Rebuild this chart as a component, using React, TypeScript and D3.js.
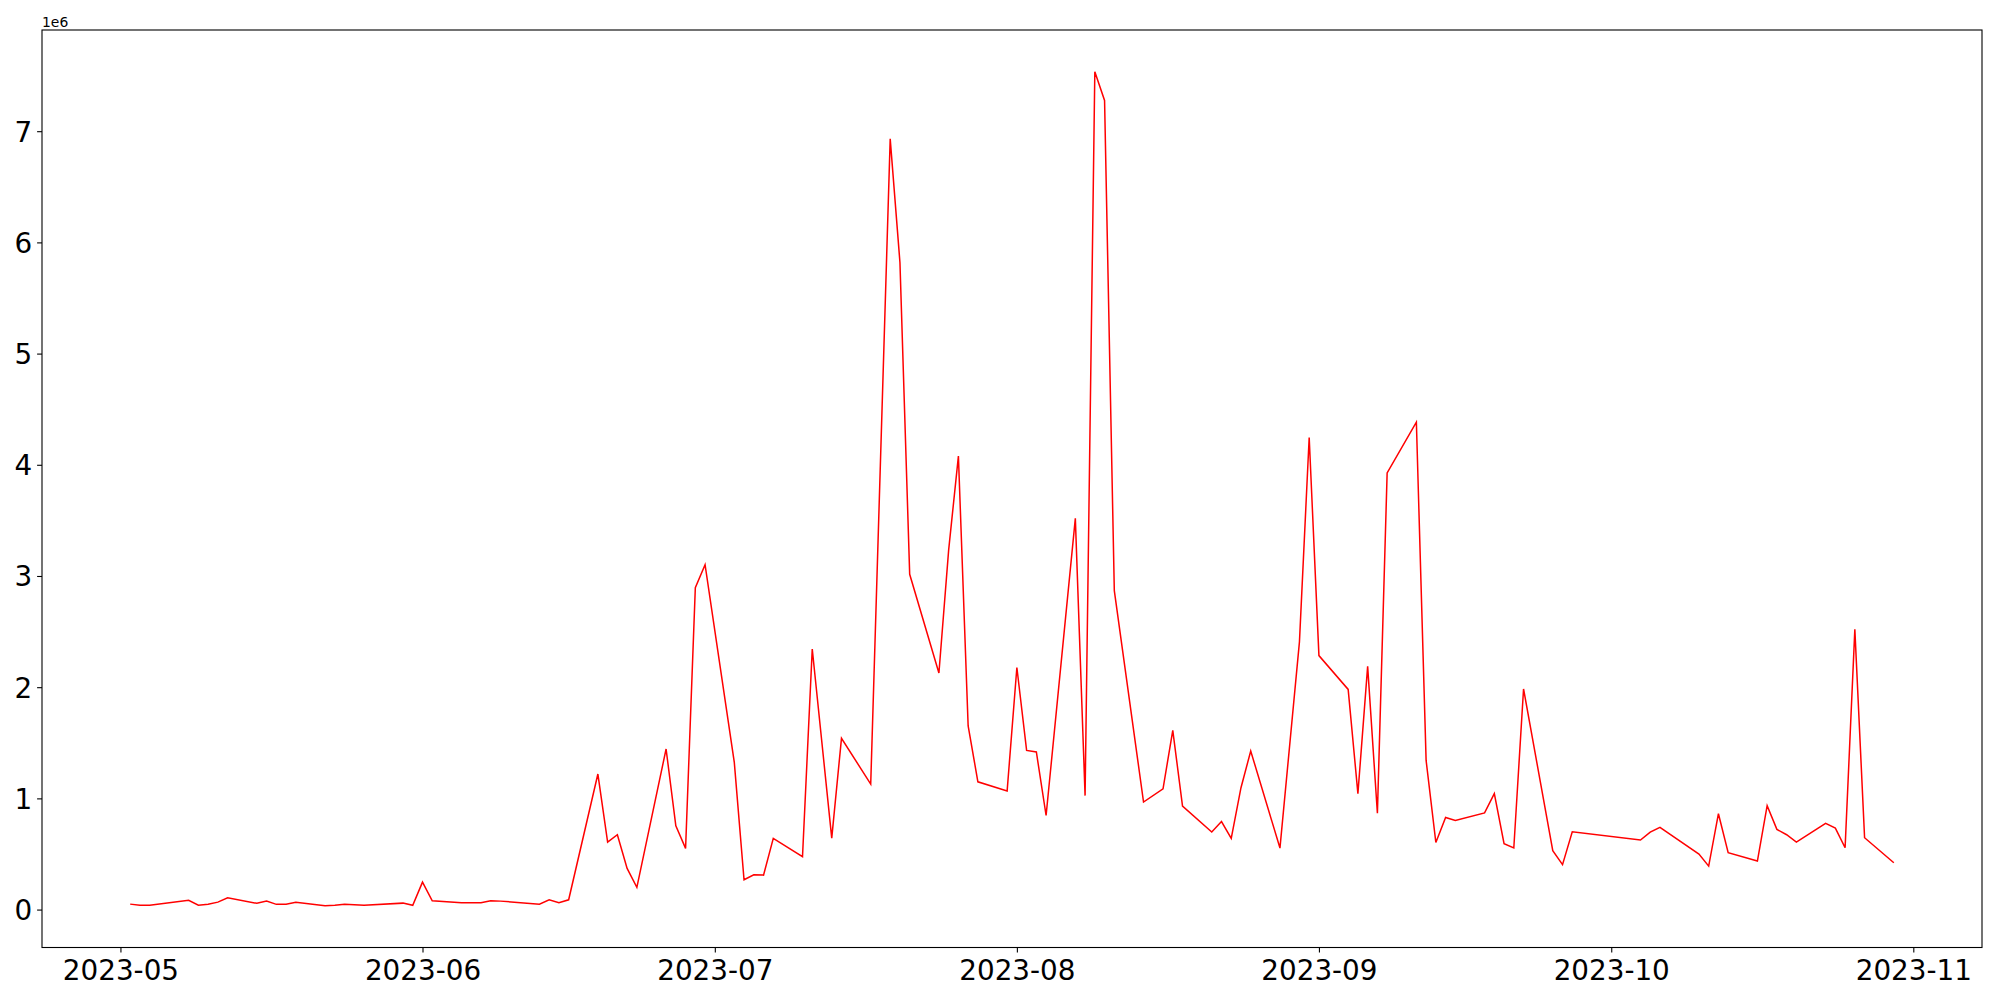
import { useEffect, useRef } from 'react';
import { select, scaleUtc, scaleLinear, axisBottom, axisLeft, line, extent, utcFormat } from 'd3';

// trading days, May 2 - Oct 30 2023
const dates = [
  '2023-05-02', '2023-05-03', '2023-05-04', '2023-05-08', '2023-05-09', '2023-05-10',
  '2023-05-11', '2023-05-12', '2023-05-15', '2023-05-16', '2023-05-17', '2023-05-18',
  '2023-05-19', '2023-05-22', '2023-05-23', '2023-05-24', '2023-05-26', '2023-05-30',
  '2023-05-31', '2023-06-01', '2023-06-02', '2023-06-05', '2023-06-07', '2023-06-08',
  '2023-06-09', '2023-06-13', '2023-06-14', '2023-06-15', '2023-06-16', '2023-06-19',
  '2023-06-20', '2023-06-21', '2023-06-22', '2023-06-23', '2023-06-26', '2023-06-27',
  '2023-06-28', '2023-06-29', '2023-06-30', '2023-07-03', '2023-07-04', '2023-07-05',
  '2023-07-06', '2023-07-07', '2023-07-10', '2023-07-11', '2023-07-13', '2023-07-14',
  '2023-07-17', '2023-07-19', '2023-07-20', '2023-07-21', '2023-07-24', '2023-07-25',
  '2023-07-26', '2023-07-27', '2023-07-28', '2023-07-31', '2023-08-01', '2023-08-02',
  '2023-08-03', '2023-08-04', '2023-08-07', '2023-08-08', '2023-08-09', '2023-08-10',
  '2023-08-11', '2023-08-14', '2023-08-16', '2023-08-17', '2023-08-18', '2023-08-21',
  '2023-08-22', '2023-08-23', '2023-08-24', '2023-08-25', '2023-08-28', '2023-08-30',
  '2023-08-31', '2023-09-01', '2023-09-04', '2023-09-05', '2023-09-06', '2023-09-07',
  '2023-09-08', '2023-09-11', '2023-09-12', '2023-09-13', '2023-09-14', '2023-09-15',
  '2023-09-18', '2023-09-19', '2023-09-20', '2023-09-21', '2023-09-22', '2023-09-25',
  '2023-09-26', '2023-09-27', '2023-10-04', '2023-10-05', '2023-10-06', '2023-10-10',
  '2023-10-11', '2023-10-12', '2023-10-13', '2023-10-16', '2023-10-17', '2023-10-18',
  '2023-10-19', '2023-10-20', '2023-10-23', '2023-10-24', '2023-10-25', '2023-10-26',
  '2023-10-27', '2023-10-30',
];

const values = [
  49000, 38000, 40000, 83000, 40000, 47000,
  67000, 106000, 56000, 76000, 47000, 47000,
  65000, 34000, 38000, 47000, 38000, 58000,
  38000, 247000, 79000, 61000, 61000, 79000,
  76000, 49000, 88000, 61000, 88000, 1219000,
  607000, 673000, 370000, 200000, 1444000, 754000,
  550000, 2895000, 3102000, 1324000, 268000, 313000,
  310000, 640000, 475000, 2343000, 643000, 1540000,
  1129000, 6931000, 5819000, 3015000, 2128000, 3235000,
  4078000, 1651000, 1149000, 1066000, 2177000, 1431000,
  1417000, 846000, 3518000, 1025000, 7535000, 7277000,
  2868000, 967000, 1086000, 1612000, 931000, 698000,
  792000, 641000, 1096000, 1426000, 553000, 2407000,
  4246000, 2284000, 1980000, 1043000, 2187000, 866000,
  3927000, 4384000, 1341000, 603000, 828000, 801000,
  869000, 1043000, 593000, 554000, 1984000, 529000,
  404000, 699000, 625000, 697000, 739000, 499000,
  391000, 862000, 511000, 436000, 934000, 721000,
  673000, 607000, 775000, 733000, 556000, 2520000,
  646000, 421000,
];

const xTicks = ['2023-05-01', '2023-06-01', '2023-07-01', '2023-08-01', '2023-09-01', '2023-10-01', '2023-11-01'];
const yTicks = [0, 1e6, 2e6, 3e6, 4e6, 5e6, 6e6, 7e6];

const width = 2000;
const height = 1000;
const margin = { top: 30, right: 18, bottom: 52.5, left: 42 };
const font = 'DejaVu Sans, sans-serif';

const App = () => {
  const svgRef = useRef(null);

  useEffect(() => {
    const svg = select(svgRef.current);
    const innerW = width - margin.left - margin.right;
    const innerH = height - margin.top - margin.bottom;
    const parse = (s) => new Date(s + 'T00:00:00Z');
    const points = dates.map((d, i) => ({ date: parse(d), value: values[i] }));

    // matplotlib-style 5% margins
    const [x0, x1] = extent(points, (p) => +p.date);
    const xPad = (x1 - x0) * 0.05;
    const xScale = scaleUtc()
      .domain([new Date(x0 - xPad), new Date(x1 + xPad)])
      .range([0, innerW]);

    const [y0, y1] = extent(points, (p) => p.value);
    const yPad = (y1 - y0) * 0.05;
    const yScale = scaleLinear().domain([y0 - yPad, y1 + yPad]).range([innerH, 0]);

    const g = svg.select('.plot').attr('transform', `translate(${margin.left}, ${margin.top})`);

    const lineGenerator = line()
      .x((p) => xScale(p.date))
      .y((p) => yScale(p.value));

    g.select('.series')
      .datum(points)
      .attr('fill', 'none')
      .attr('stroke', '#ff0000')
      .attr('stroke-width', 1.5)
      .attr('stroke-linejoin', 'miter')
      .attr('d', lineGenerator);

    const xAxis = axisBottom(xScale)
      .tickValues(xTicks.map(parse))
      .tickFormat(utcFormat('%Y-%m'))
      .tickSize(4.9)
      .tickPadding(4.9);
    const xg = g.select('.x-axis').attr('transform', `translate(0, ${innerH})`).call(xAxis);
    xg.select('.domain').remove();
    xg.selectAll('text').attr('dy', '0.8em').style('font-size', '27.8px').style('font-family', font).attr('fill', '#000');
    xg.selectAll('line').attr('stroke', '#000').attr('stroke-width', 1.1);

    const yAxis = axisLeft(yScale)
      .tickValues(yTicks)
      .tickFormat((d) => String(d / 1e6))
      .tickSize(4.9)
      .tickPadding(4.9);
    const yg = g.select('.y-axis').call(yAxis);
    yg.select('.domain').remove();
    yg.selectAll('text').attr('dy', '0.36em').style('font-size', '27.8px').style('font-family', font).attr('fill', '#000');
    yg.selectAll('line').attr('stroke', '#000').attr('stroke-width', 1.1);

    g.select('.frame')
      .attr('width', innerW)
      .attr('height', innerH)
      .attr('fill', 'none')
      .attr('stroke', '#000')
      .attr('stroke-width', 1.1);
  }, []);

  return (
    <div>
      <style>{'body { margin: 0; }'}</style>
      <svg ref={svgRef} width={width} height={height} style={{ display: 'block', background: '#fff' }}>
        <g className='plot'>
          <path className='series' />
          <rect className='frame' />
          <g className='x-axis' />
          <g className='y-axis' />
        </g>
        <text x={margin.left} y={26.5} fontSize={13.9} fontFamily={font}>
          1e6
        </text>
      </svg>
    </div>
  );
};

export default App;
